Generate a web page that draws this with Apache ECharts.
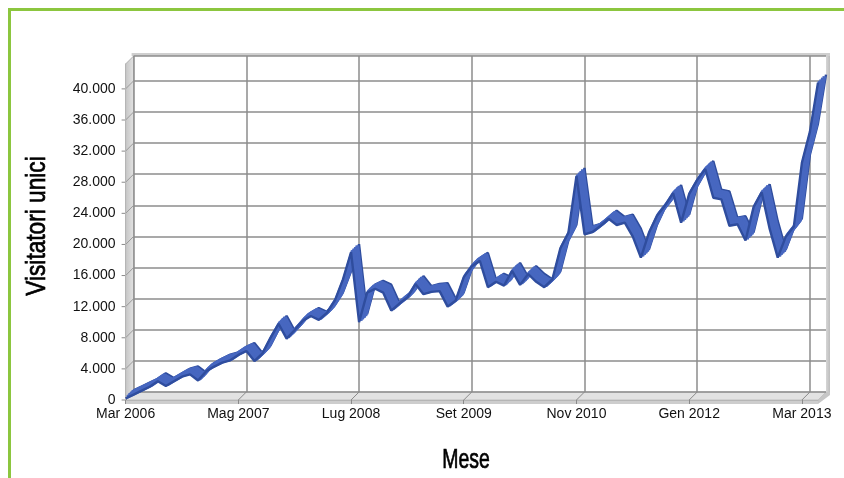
<!DOCTYPE html>
<html><head><meta charset="utf-8">
<script src="https://cdn.jsdelivr.net/npm/echarts@6.0.0/dist/echarts.min.js"></script>
<style>html,body{margin:0;padding:0;background:#fff}#c{width:844px;height:478px}</style>
</head><body><div id="c"></div><script>
// ---- data ----
const monthNames = ['Gen','Feb','Mar','Apr','Mag','Giu','Lug','Ago','Set','Ott','Nov','Dic'];
const firstYear = 2006, firstMonth = 2, monthCount = 87; // Mar 2006 .. Mag 2013
const months = [];
for (let i = 0; i < monthCount; i++) {
  const m = firstMonth + i;
  months.push(monthNames[m % 12] + ' ' + (firstYear + Math.floor(m / 12)));
}
const visitors = [
  200,700,1200,1700,2400,1800,2400,3000,3300,2500,
  3700,4300,4800,5100,5800,6300,5000,6000,8000,9800,
  7900,9000,10200,10800,10300,11200,12800,15500,19000,10000,
  13800,14300,13800,11500,12400,13200,14900,13600,13900,14000,
  12000,12800,15800,17200,17900,14500,15200,14700,16600,14800,
  16200,15200,14500,15500,19500,21500,28800,21300,21600,22400,
  23300,22500,22800,21000,18300,21500,23700,25000,26600,22800,
  26500,28300,29700,26000,25800,22400,22600,20500,24800,26700,
  22000,18300,21000,22300,30500,34500,40800
];
const yMin = 0, yMax = 43200, yStep = 4000, yTopTick = 40000;
const labelEvery = 14;
const xTitle = 'Mese', yTitle = 'Visitatori unici';

// ---- layout ----
const W = 844, H = 478;
const BX0 = 133.6, BX1 = 826, BY0 = 56, BY1 = 392, DEPTH = 8;
const LAYERS = 6;
const textFont = '"Liberation Sans", Arial, sans-serif';

const chart = echarts.init(document.getElementById('c'), null, {renderer: 'canvas'});
const grids = [], xAxes = [], yAxes = [], series = [];
for (let k = 0; k < LAYERS; k++) {
  const d = DEPTH * k / (LAYERS - 1);
  grids.push({left: BX0 - d, right: W - (BX1 - d), top: BY0 + d, bottom: H - (BY1 + d), containLabel: false});
  const isBack = k === 0, isFront = k === LAYERS - 1;
  xAxes.push({
    gridIndex: k, type: 'category', data: months, boundaryGap: false,
    show: isBack || isFront,
    axisLine: {show: isFront, lineStyle: {color: '#b5b5b5', width: 1}},
    axisTick: {show: isFront, interval: labelEvery - 1, length: 4, lineStyle: {color: '#8a8a8a'}},
    axisLabel: {show: isFront, interval: labelEvery - 1, margin: 7, color: '#111',
      fontFamily: textFont, fontSize: 14},
    splitLine: {show: isBack, interval: labelEvery - 1, lineStyle: {color: '#8c8c8c', width: 1.5}}
  });
  yAxes.push({
    gridIndex: k, type: 'value', min: yMin, max: yMax, interval: yStep,
    show: isBack || isFront,
    axisLine: {show: isFront, lineStyle: {color: '#b5b5b5', width: 1}},
    axisTick: {show: false},
    axisLabel: {show: isFront, margin: 10, color: '#111', fontFamily: textFont, fontSize: 14,
      formatter: v => (v % yStep !== 0 || v > yTopTick) ? '' : (v === 0 ? '0' : (v / 1000) + '.000')},
    splitLine: {show: isBack, lineStyle: {color: '#8c8c8c', width: 1.5}}
  });
  const edge = (k === 0 || k === LAYERS - 1);
  series.push({
    type: 'line', xAxisIndex: k, yAxisIndex: k, data: visitors, symbol: 'none', silent: true,
    lineStyle: {color: edge ? '#2f4d9e' : '#4767c0', width: edge ? 2.4 : 3.6},
    z: 3 + k
  });
}
chart.setOption({
  animation: false, backgroundColor: '#fff',
  grid: grids, xAxis: xAxes, yAxis: yAxes, series: series
});

// ---- 3D frame decorations, placed from the axis scales ----
const g = [];
const last = LAYERS - 1;
const pb = (c, v) => chart.convertToPixel({gridIndex: 0}, [c, v]);
const pf = (c, v) => chart.convertToPixel({gridIndex: last}, [c, v]);
const b00 = pb(0, yMin), b10 = pb(monthCount - 1, yMin), b01 = pb(0, yMax), b11 = pb(monthCount - 1, yMax);
const f00 = pf(0, yMin), f10 = pf(monthCount - 1, yMin), f01 = pf(0, yMax);
// left side wall
g.push({type: 'polygon', z: -1, shape: {points: [f01, b01, b00, f00]},
  style: {fill: new echarts.graphic.LinearGradient(0, 0, 1, 0, [{offset: 0, color: '#c4c4c4'}, {offset: 1, color: '#e4e4e4'}]), stroke: '#b0b0b0', lineWidth: 1}});
// floor
g.push({type: 'polygon', z: -1, shape: {points: [f00, b00, b10, f10]},
  style: {fill: '#e2e2e2', stroke: '#c0c0c0', lineWidth: 1}});
g.push({type: 'polygon', z: -1, shape: {points: [f00, f10, [f10[0], f10[1] + 4], [f00[0], f00[1] + 4]]},
  style: {fill: '#cdcdcd'}});
g.push({type: 'polygon', z: -1, shape: {points: [f10, b10, [b10[0] + 4, b10[1]], [b10[0] + 4, b10[1] + 3], [f10[0], f10[1] + 4]]},
  style: {fill: '#c6c6c6'}});
// right edge and top edge of back wall
g.push({type: 'rect', z: -1, shape: {x: b11[0], y: b11[1] - 1, width: 4, height: b10[1] - b11[1] + 1},
  style: {fill: new echarts.graphic.LinearGradient(0, 0, 1, 0, [{offset: 0, color: '#d6d6d6'}, {offset: 1, color: '#bdbdbd'}])}});
g.push({type: 'rect', z: -1, shape: {x: b01[0] - 2, y: b01[1] - 3, width: b11[0] - b01[0] + 6, height: 3},
  style: {fill: '#cfcfcf'}});
// diagonals and ticks on side wall
for (let v = yMin; v <= yTopTick; v += yStep) {
  const a = pb(0, v), b = pf(0, v);
  g.push({type: 'line', z: 0, shape: {x1: a[0], y1: a[1], x2: b[0], y2: b[1]}, style: {stroke: '#9a9a9a', lineWidth: 1}});
  g.push({type: 'line', z: 0, shape: {x1: b[0] - 4, y1: b[1], x2: b[0], y2: b[1]}, style: {stroke: '#8a8a8a', lineWidth: 1}});
}
// diagonals on floor
for (let i = 0; i < monthCount; i += labelEvery) {
  const a = pb(i, yMin), b = pf(i, yMin);
  g.push({type: 'line', z: 0, shape: {x1: a[0], y1: a[1], x2: b[0], y2: b[1]}, style: {stroke: '#8a8a8a', lineWidth: 1}});
}
// axis titles (tall, condensed lettering as in the original)
g.push({type: 'text', z: 10, x: 466, y: 461, scaleX: 0.72,
  style: {text: xTitle, fill: '#000', stroke: '#000', lineWidth: 0.7, font: 'normal 27px "Liberation Sans", Arial, sans-serif', align: 'center', verticalAlign: 'middle'}});
g.push({type: 'text', z: 10, x: 38, y: 226, rotation: Math.PI / 2, scaleX: 0.84,
  style: {text: yTitle, fill: '#000', stroke: '#000', lineWidth: 0.7, font: 'normal 27px "Liberation Sans", Arial, sans-serif', align: 'center', verticalAlign: 'middle'}});
// green frame
g.push({type: 'line', z: 10, shape: {x1: 8, y1: 9.5, x2: W, y2: 9.5}, style: {stroke: '#8cc63f', lineWidth: 3}});
g.push({type: 'line', z: 10, shape: {x1: 9.5, y1: 8, x2: 9.5, y2: H}, style: {stroke: '#8cc63f', lineWidth: 3}});
chart.setOption({graphic: {elements: g}});
</script></body></html>
